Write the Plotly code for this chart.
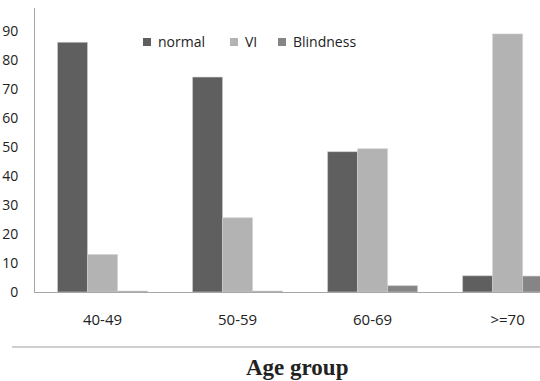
import plotly.graph_objects as go

categories = ["40-49", "50-59", "60-69", ">=70"]
normal = [86.1, 74.1, 48.4, 5.6]
vi = [12.9, 25.6, 49.4, 89.0]
blindness = [0.3, 0.3, 2.2, 5.5]
y_ticks = [0, 10, 20, 30, 40, 50, 60, 70, 80, 90]
series_names = ["normal", "VI", "Blindness"]
series_colors = ["#5f5f5f", "#b3b3b3", "#858585"]

W, H = 540, 381
L, R, T, B = 35, 0, 8, 89
PW, PH = W - L - R, H - T - B


def px_x(x):
    return (x - L) / PW


def px_y(y):
    return (H - B - y) / PH


fig = go.Figure()
for name, vals, col in zip(series_names, [normal, vi, blindness], series_colors):
    fig.add_trace(go.Bar(name=name, x=categories, y=vals, showlegend=False,
                         marker=dict(color=col, line=dict(width=0.6, color="#d0d0d0"))))

font_sans = "Open Sans"
fig.update_layout(
    width=W, height=H,
    margin=dict(l=L, r=R, t=T, b=B),
    paper_bgcolor="white", plot_bgcolor="white",
    barmode="group", bargap=1/3, bargroupgap=0,
    font=dict(family=font_sans, size=14, color="#222"),
    xaxis=dict(type="category", range=[-0.5, 3.24], showgrid=False, showline=True,
               linecolor="#a6a6a6", linewidth=1, ticks="", ticklabelstandoff=14,
               tickfont=dict(family=font_sans, size=15, color="#222"), zeroline=False),
    yaxis=dict(range=[0, 97.93], tickvals=y_ticks, showgrid=False, showline=True,
               linecolor="#a6a6a6", linewidth=1, ticks="", ticklabelstandoff=13,
               tickfont=dict(family=font_sans, size=14, color="#222"), zeroline=False,
               automargin=False),
)

# legend drawn manually (small squares + text)
legend_sq_left = [143, 230, 278]
legend_y = 42
for name, col, sx in zip(series_names, series_colors, legend_sq_left):
    fig.add_shape(type="rect", xref="paper", yref="paper",
                  x0=px_x(sx), x1=px_x(sx + 8), y0=px_y(legend_y + 4), y1=px_y(legend_y - 4),
                  fillcolor=col, line=dict(width=0))
    fig.add_annotation(text=name, xref="paper", yref="paper",
                       x=px_x(sx + 13), y=px_y(legend_y), xanchor="left", yanchor="middle",
                       showarrow=False, font=dict(family=font_sans, size=14, color="#222"))

# separator line below the tick labels
fig.add_shape(type="line", xref="paper", yref="paper",
              x0=px_x(12), x1=1.0, y0=px_y(347), y1=px_y(347),
              line=dict(color="#a0a0a0", width=1.2))

fig.add_annotation(text="<b>Age group</b>", xref="paper", yref="paper",
                   x=px_x(297), y=px_y(367),
                   xanchor="center", yanchor="middle", showarrow=False,
                   font=dict(family="Liberation Serif", size=23, color="#222"))

fig.write_html("out.html")
